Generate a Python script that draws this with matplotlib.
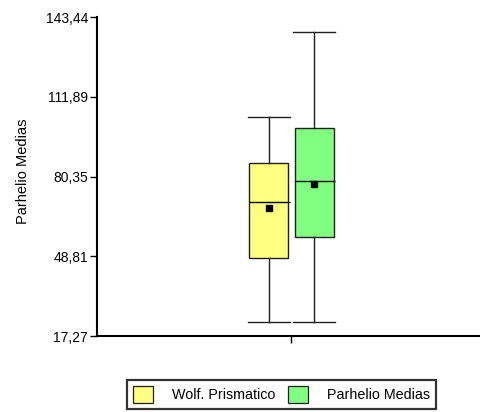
import matplotlib
matplotlib.use("Agg")
import matplotlib.pyplot as plt
from matplotlib.patches import Patch

plt.rcParams['font.family'] = ['Liberation Sans', 'DejaVu Sans']

# group summaries (whisker low, Q1, median, Q3, whisker high, mean)
groups = ['Wolf. Prismatico', 'Parhelio Medias']
colors = ['#FFFF80', '#80FF80']
whislo = [22.9, 22.9]
q1 = [48.2, 56.3]
med = [70.4, 78.5]
q3 = [85.8, 99.4]
whishi = [103.8, 137.6]
means = [68.0, 77.5]
yticks = [17.27, 48.81, 80.35, 111.89, 143.44]
ytick_labels = ['17,27', '48,81', '80,35', '111,89', '143,44']

positions = [0.447, 0.566]
box_w = 0.102
cap_w = 0.109

fig = plt.figure(figsize=(4.81, 4.12), dpi=100)
ax = fig.add_axes([97 / 481, 76 / 412, 1 - 97 / 481, 319 / 412])

stats = []
for i, g in enumerate(groups):
    stats.append(dict(label=g, whislo=whislo[i], q1=q1[i], med=med[i],
                      q3=q3[i], whishi=whishi[i], mean=means[i], fliers=[]))

lw = 1.0
bp = ax.bxp(stats, positions=positions, widths=box_w, capwidths=cap_w,
            patch_artist=True, showmeans=True, manage_ticks=False,
            boxprops=dict(edgecolor='#202020', linewidth=lw),
            whiskerprops=dict(color='#202020', linewidth=lw),
            capprops=dict(color='#202020', linewidth=lw),
            medianprops=dict(linewidth=0))
for patch, c in zip(bp['boxes'], colors):
    patch.set_facecolor(c)
for m in bp['means']:
    m.set(marker='s', markerfacecolor='black', markeredgecolor='black',
          markersize=4.5)

# median lines run from the box's left edge out to the cap's right end
for p, m in zip(positions, med):
    ax.hlines(m, p - box_w / 2, p + cap_w / 2, color='black', linewidth=lw,
              zorder=3)

ax.set_xlim(0, 1)
ax.set_ylim(yticks[0], yticks[-1])
ax.set_yticks(yticks)
ax.set_yticklabels(ytick_labels, fontsize=10)
ax.set_xticks([0.5 * (positions[0] + positions[1])])
ax.set_xticklabels([''])
ax.tick_params(axis='both', direction='out', length=5, width=1, pad=1.5,
               color='black')
ax.set_ylabel('Parhelio Medias', fontsize=10.5)
ax.yaxis.set_label_coords(-0.174, 0.517)

for side in ['top', 'right']:
    ax.spines[side].set_visible(False)
for side in ['left', 'bottom']:
    ax.spines[side].set_linewidth(1.5)

handles = [Patch(facecolor=c, edgecolor='#202020', linewidth=0.9) for c in colors]
leg = fig.legend(handles, groups, loc='upper left',
                 bbox_to_anchor=(127 / 481, 1 - 380 / 412), fontsize=10.3,
                 ncol=2, fancybox=False, handlelength=1.4, handleheight=1.4,
                 handletextpad=1.3, columnspacing=0.9, borderpad=0.45,
                 borderaxespad=0)
leg.get_frame().set_edgecolor('black')
leg.get_frame().set_linewidth(1.6)

fig.savefig('out.png', dpi=100)
